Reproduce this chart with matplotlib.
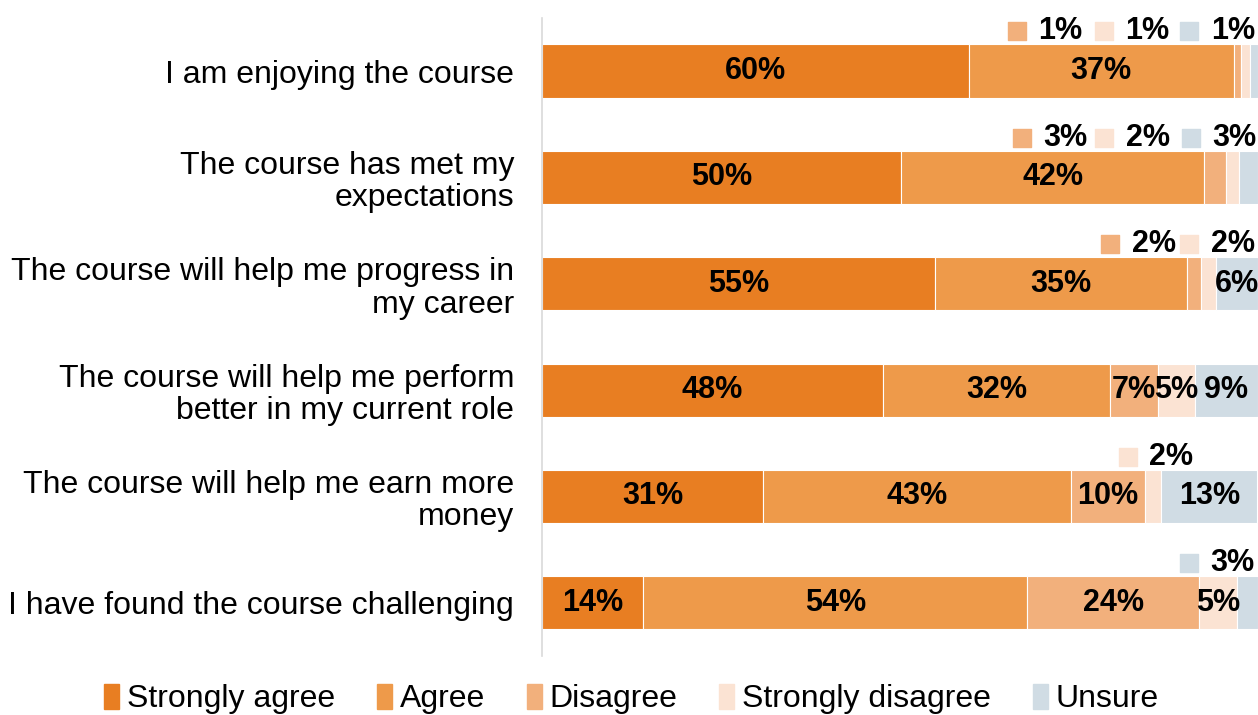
import matplotlib.pyplot as plt
from matplotlib.patches import Patch

plt.rcParams['font.family'] = ['Liberation Sans', 'DejaVu Sans']

# data
questions = ['I am enjoying the course',
             'The course has met my\nexpectations',
             'The course will help me progress in\nmy career',
             'The course will help me perform\nbetter in my current role',
             'The course will help me earn more\nmoney',
             'I have found the course challenging']
categories = ['Strongly agree', 'Agree', 'Disagree', 'Strongly disagree', 'Unsure']
strongly_agree = [59.6, 50.2, 54.9, 47.6, 30.9, 14.1]
agree = [37.0, 42.3, 35.2, 31.8, 43.0, 53.7]
disagree = [1.0, 3.1, 2.0, 6.6, 10.3, 24.0]
strongly_disagree = [1.3, 1.8, 2.1, 5.2, 2.3, 5.2]
unsure = [1.1, 2.6, 5.8, 8.8, 13.4, 3.0]

colours = ['#E87E22', '#EE9A4A', '#F2B07C', '#FBE3D3', '#D0DCE4']
series = [strongly_agree, agree, disagree, strongly_disagree, unsure]

# labels that sit above the bar (row, series index) -> x of the little square (data units)
callouts = {(0, 2): 66.3, (0, 3): 78.5, (0, 4): 90.4,
            (1, 2): 67.0, (1, 3): 78.5, (1, 4): 90.6,
            (2, 2): 79.4, (2, 3): 90.4,
            (4, 3): 81.8,
            (5, 4): 90.4}

fig = plt.figure(figsize=(12.58, 7.15), dpi=100)
ax = fig.add_axes([0.4308, 0.0825, 0.5692, 0.8925])

y = range(len(questions))
left = [0] * len(questions)
for j, vals in enumerate(series):
    ax.barh(y, vals, left=left, height=0.5, color=colours[j],
            edgecolor='white', linewidth=0.8, label=categories[j])
    for i, v in enumerate(vals):
        if (i, j) in callouts:
            sx = callouts[(i, j)]
            ax.scatter([sx], [i - 0.375], marker='s', s=170, color=colours[j],
                       clip_on=False, zorder=3)
            ax.text(sx + 3.0, i - 0.375, f'{round(v)}%', ha='left', va='center',
                    fontsize=22, fontweight='bold', clip_on=False)
        else:
            ax.text(left[i] + v / 2, i, f'{round(v)}%', ha='center', va='center',
                    fontsize=22, fontweight='bold')
    left = [a + b for a, b in zip(left, vals)]

ax.set_xlim(0, 100)
ax.set_ylim(5.5, -0.5)
ax.set_yticks(list(y))
ax.set_yticklabels(questions, fontsize=23, ha='right', linespacing=1.1)
ax.tick_params(axis='y', length=0, pad=20)
ax.set_xticks([])
for s in ['top', 'right', 'bottom']:
    ax.spines[s].set_visible(False)
ax.spines['left'].set_color('#D9D9D9')
ax.spines['left'].set_linewidth(1.2)

handles = [Patch(color=c) for c in colours]
fig.legend(handles, categories, loc='center', bbox_to_anchor=(0.502, 0.022),
           ncol=5, frameon=False, fontsize=23, handlelength=0.47,
           handleheight=0.8, handletextpad=0.25, columnspacing=1.3)

fig.savefig('out.png', dpi=100)
